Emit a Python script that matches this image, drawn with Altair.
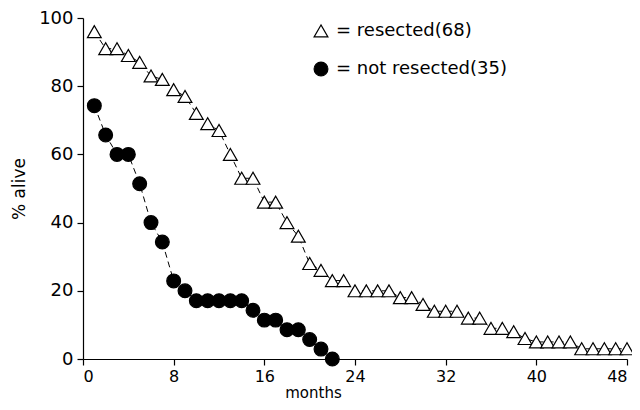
import altair as alt
import pandas as pd

series_names = ["resected(68)", "not resected(35)"]

months_res = list(range(1, 49))
alive_res = [96, 91, 91, 89, 87, 83, 82, 79, 77, 72, 69, 67, 60, 53, 53, 46, 46, 40, 36, 28,
             26, 23, 23, 20, 20, 20, 20, 18, 18, 16, 14, 14, 14, 12, 12, 9, 9, 8, 6, 5,
             5, 5, 5, 3, 3, 3, 3, 3]

months_not = list(range(1, 23))
alive_not = [74.3, 65.7, 60, 60, 51.4, 40, 34.3, 22.9, 20, 17.1, 17.1, 17.1, 17.1, 17.1,
             14.3, 11.4, 11.4, 8.6, 8.6, 5.7, 2.9, 0]

x_ticks = [0, 8, 16, 24, 32, 40, 48]
y_ticks = [0, 20, 40, 60, 80, 100]

df = pd.concat([
    pd.DataFrame({"month": months_res, "alive": alive_res, "series": series_names[0]}),
    pd.DataFrame({"month": months_not, "alive": alive_not, "series": series_names[1]}),
])

FONT = "DejaVu Sans"

x = alt.X("month:Q", scale=alt.Scale(domain=[0, 48], nice=False),
          axis=alt.Axis(values=x_ticks, title="months", titleX=230, titleY=38,
                        titleAlign="center", titleBaseline="alphabetic",
                        labelPadding=3, labelFontSize=16, titleFontSize=15))
y = alt.Y("alive:Q", scale=alt.Scale(domain=[0, 100], nice=False),
          axis=alt.Axis(values=y_ticks, title="% alive", titlePadding=10,
                        labelPadding=4, labelFontSize=18, titleFontSize=17))

leg = alt.Legend(title=None, orient="none", legendX=229, legendY=4,
                 labelExpr="'= ' + datum.label", labelFontSize=18, labelFont=FONT,
                 labelColor="black", symbolStrokeColor="black", symbolStrokeWidth=1.2,
                 symbolSize=190, rowPadding=19, labelOffset=6, padding=0,
                 labelLimit=300)

shape = alt.Shape("series:N", sort=series_names,
                  scale=alt.Scale(domain=series_names, range=["triangle-up", "circle"]),
                  legend=leg)
fill = alt.Fill("series:N", sort=series_names,
                scale=alt.Scale(domain=series_names, range=["white", "black"]),
                legend=leg)
stroke = alt.Stroke("series:N", sort=series_names,
                    scale=alt.Scale(domain=series_names, range=["black", "black"]),
                    legend=leg)

lines = alt.Chart(df).mark_line(color="black", strokeWidth=1, strokeDash=[6, 4]).encode(
    x=x, y=y, detail="series:N"
)

points = alt.Chart(df).mark_point(filled=True, strokeWidth=1.2,
                                  opacity=1, size=190).encode(
    x=x, y=y, shape=shape, fill=fill, stroke=stroke
)

chart = (lines + points).properties(
    width=544, height=341,
    autosize=alt.AutoSizeParams(type="none"),
    padding={"left": 75, "top": 10, "right": 5, "bottom": 43},
).configure_view(stroke=None).configure_axis(
    grid=False, domainColor="black", tickColor="black", labelColor="black",
    titleColor="black", labelFont=FONT, titleFont=FONT,
    titleFontWeight="normal", tickSize=6, domainWidth=1.2, tickWidth=1.2
)

chart.save("out.html", embed_options={"renderer": "svg", "actions": False})
